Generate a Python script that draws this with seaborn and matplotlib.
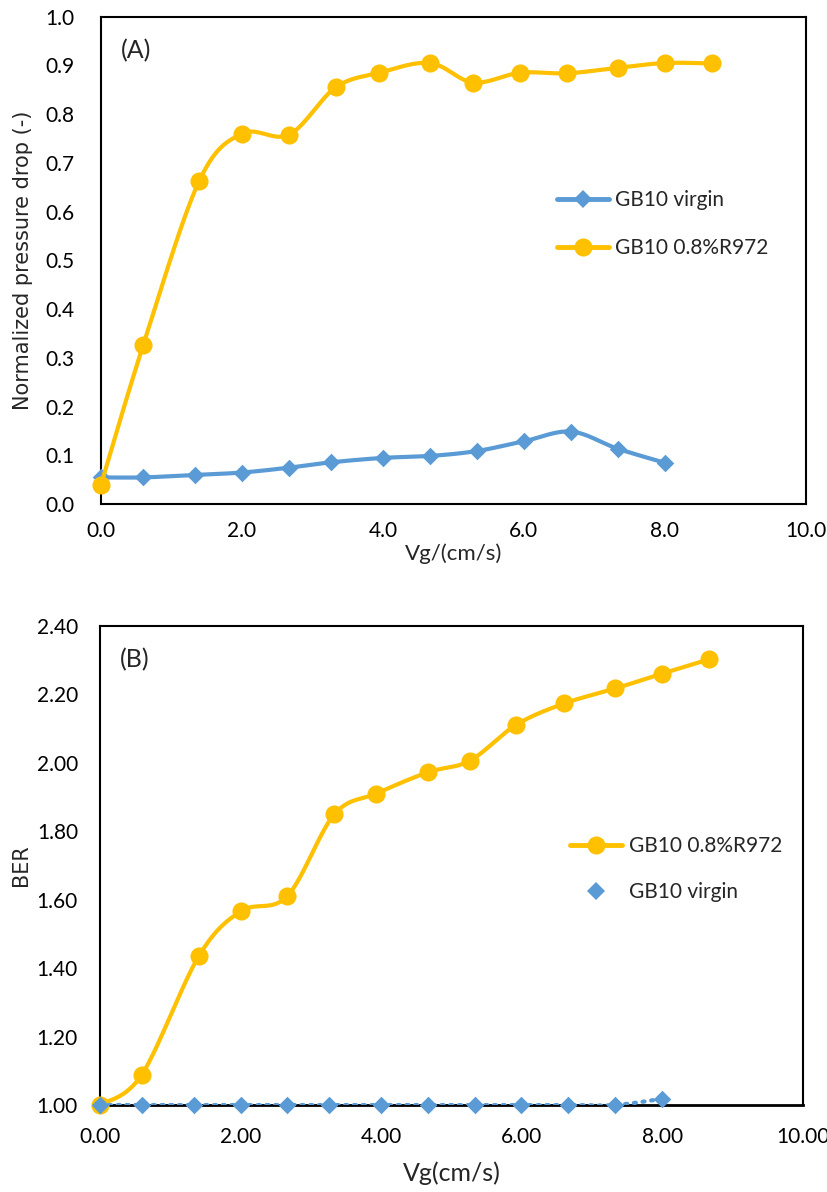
import numpy as np
import pandas as pd
import matplotlib
matplotlib.use("Agg")
import matplotlib.pyplot as plt
import seaborn as sns
from matplotlib.lines import Line2D

# ---------------- data ----------------
vg_virgin_a = [0.0, 0.6, 1.33, 2.0, 2.67, 3.27, 4.0, 4.67, 5.33, 6.0, 6.67, 7.33, 8.0]
dp_virgin = [0.055, 0.055, 0.060, 0.065, 0.075, 0.086, 0.095, 0.099, 0.109, 0.129, 0.149, 0.114, 0.085]

vg_r972_a = [0.0, 0.6, 1.39, 2.0, 2.67, 3.33, 3.95, 4.67, 5.28, 5.95, 6.62, 7.33, 8.0, 8.67]
dp_r972 = [0.040, 0.327, 0.662, 0.760, 0.758, 0.855, 0.885, 0.905, 0.865, 0.885, 0.884, 0.895, 0.905, 0.904]

vg_r972_b = [0.0, 0.59, 1.40, 2.0, 2.66, 3.33, 3.93, 4.66, 5.26, 5.92, 6.60, 7.33, 7.99, 8.66]
ber_r972 = [1.000, 1.088, 1.434, 1.566, 1.610, 1.849, 1.910, 1.972, 2.006, 2.111, 2.173, 2.217, 2.260, 2.302]

vg_virgin_b = [0.0, 0.59, 1.34, 2.0, 2.66, 3.26, 3.99, 4.66, 5.33, 5.99, 6.66, 7.33, 7.99]
ber_virgin = [1.0, 1.0, 1.0, 1.0, 1.0, 1.0, 1.0, 1.0, 1.0, 1.0, 1.0, 1.0, 1.018]

xticks_a = [0, 2, 4, 6, 8, 10]
xticklabels_a = ["0.0", "2.0", "4.0", "6.0", "8.0", "10.0"]
yticks_a = [0.0, 0.1, 0.2, 0.3, 0.4, 0.5, 0.6, 0.7, 0.8, 0.9, 1.0]
xticklabels_b = ["0.00", "2.00", "4.00", "6.00", "8.00", "10.00"]
yticks_b = [1.0, 1.2, 1.4, 1.6, 1.8, 2.0, 2.2, 2.4]

ORANGE = "#FFC000"
BLUE = "#5B9BD5"

sns.set_theme(style="white")
plt.rcParams["font.family"] = ["Lato", "DejaVu Sans"]


def smooth(x, y, xr, yr, n=24):
    """Excel-like smoothed line (Catmull-Rom Bezier) in normalised space."""
    x = np.asarray(x, float); y = np.asarray(y, float)
    u = (x - xr[0]) / (xr[1] - xr[0]) * 7.0
    v = (y - yr[0]) / (yr[1] - yr[0]) * 4.8
    P = np.column_stack([u, v])
    P = np.vstack([P[0], P, P[-1]])
    out = []
    t = np.linspace(0, 1, n)[:, None]
    for i in range(1, len(P) - 2):
        p0, p1, p2, p3 = P[i - 1], P[i], P[i + 1], P[i + 2]
        b1 = p1 + (p2 - p0) / 6.0
        b2 = p2 - (p3 - p1) / 6.0
        seg = ((1 - t) ** 3) * p1 + 3 * ((1 - t) ** 2) * t * b1 + 3 * (1 - t) * t ** 2 * b2 + t ** 3 * p2
        out.append(seg if i == 1 else seg[1:])
    S = np.vstack(out)
    xs = S[:, 0] / 7.0 * (xr[1] - xr[0]) + xr[0]
    ys = S[:, 1] / 4.8 * (yr[1] - yr[0]) + yr[0]
    return xs, ys


fig = plt.figure(figsize=(8.28, 11.92), dpi=100)
axA = fig.add_axes([0.122, 0.577, 0.851, 0.409])
axB = fig.add_axes([0.121, 0.073, 0.849, 0.402])

tick_fs = 15
leg_fs = 15

# ---------- panel A ----------
xrA, yrA = (0, 10), (0, 1)
xs, ys = smooth(vg_virgin_a, dp_virgin, xrA, yrA)
sns.lineplot(x=xs, y=ys, ax=axA, color=BLUE, lw=3, sort=False, estimator=None, zorder=2)
sns.scatterplot(x=vg_virgin_a, y=dp_virgin, ax=axA, color=BLUE, marker="D", s=80,
                edgecolor=BLUE, linewidth=0, zorder=3, clip_on=False)
xs, ys = smooth(vg_r972_a, dp_r972, xrA, yrA)
sns.lineplot(x=xs, y=ys, ax=axA, color=ORANGE, lw=3, sort=False, estimator=None, zorder=4)
sns.scatterplot(x=vg_r972_a, y=dp_r972, ax=axA, color=ORANGE, marker="o", s=170,
                edgecolor=ORANGE, linewidth=0, zorder=5, clip_on=False)
axA.set_xlim(*xrA); axA.set_ylim(*yrA)
axA.set_xticks(xticks_a); axA.set_xticklabels(xticklabels_a)
axA.set_yticks(yticks_a); axA.set_yticklabels([f"{v:.1f}" for v in yticks_a])
axA.set_xlabel("Vg/(cm/s)", fontsize=16, labelpad=2)
axA.set_ylabel("Normalized pressure drop (-)", fontsize=15, family=["DejaVu Sans"])
axA.yaxis.set_label_coords(-0.097, 0.5)
axA.text(0.028, 0.93, "(A)", transform=axA.transAxes, fontsize=18, va="center")
hA = [Line2D([], [], color=BLUE, lw=3.5, marker="D", ms=9, markeredgewidth=0),
      Line2D([], [], color=ORANGE, lw=3.5, marker="o", ms=13, markeredgewidth=0)]
axA.legend(hA, ["GB10 virgin", "GB10 0.8%R972"], loc="center left", bbox_to_anchor=(0.62, 0.575),
           frameon=False, fontsize=leg_fs, handlelength=2.5, labelspacing=1.35, handletextpad=0.3)

# ---------- panel B ----------
xrB, yrB = (0, 10), (1.0, 2.4)
xs, ys = smooth(vg_virgin_b, ber_virgin, xrB, yrB)
sns.lineplot(x=xs, y=ys, ax=axB, color=BLUE, lw=3, sort=False, estimator=None, zorder=6,
             linestyle=(0, (0.5, 1.6)))
axB.lines[-1].set_dash_capstyle("round")
sns.scatterplot(x=vg_virgin_b, y=ber_virgin, ax=axB, color=BLUE, marker="D", s=80,
                edgecolor=BLUE, linewidth=0, zorder=7, clip_on=False)
xs, ys = smooth(vg_r972_b, ber_r972, xrB, yrB)
sns.lineplot(x=xs, y=ys, ax=axB, color=ORANGE, lw=3, sort=False, estimator=None, zorder=4)
sns.scatterplot(x=vg_r972_b, y=ber_r972, ax=axB, color=ORANGE, marker="o", s=170,
                edgecolor=ORANGE, linewidth=0, zorder=5, clip_on=False)
axB.set_xlim(*xrB); axB.set_ylim(*yrB)
axB.set_xticks(xticks_a); axB.set_xticklabels(xticklabels_b)
axB.set_yticks(yticks_b); axB.set_yticklabels([f"{v:.2f}" for v in yticks_b])
axB.set_xlabel("Vg(cm/s)", fontsize=18, labelpad=10)
axB.set_ylabel("BER", fontsize=15, family=["DejaVu Sans"])
axB.yaxis.set_label_coords(-0.098, 0.5)
axB.text(0.028, 0.93, "(B)", transform=axB.transAxes, fontsize=18, va="center")
hB = [Line2D([], [], color=ORANGE, lw=3.5, marker="o", ms=13, markeredgewidth=0),
      Line2D([], [], color=BLUE, lw=0, marker="D", ms=9, markeredgewidth=0)]
axB.legend(hB, ["GB10 0.8%R972", "GB10 virgin"], loc="center left", bbox_to_anchor=(0.642, 0.4925),
           frameon=False, fontsize=leg_fs, handlelength=2.5, labelspacing=1.25, handletextpad=0.3)

for ax in (axA, axB):
    for s in ax.spines.values():
        s.set_color("black"); s.set_linewidth(1.5); s.set_visible(True)
    ax.tick_params(axis="both", which="both", length=0, labelsize=tick_fs, colors="black")
    ax.set_facecolor("white")
    ax.grid(False)
axA.tick_params(axis="y", pad=19)
axA.tick_params(axis="x", pad=12)
axB.tick_params(axis="y", pad=16)
axB.tick_params(axis="x", pad=16)
axB.spines["bottom"].set_linewidth(2)

fig.savefig("out.png", dpi=100, facecolor="white")
